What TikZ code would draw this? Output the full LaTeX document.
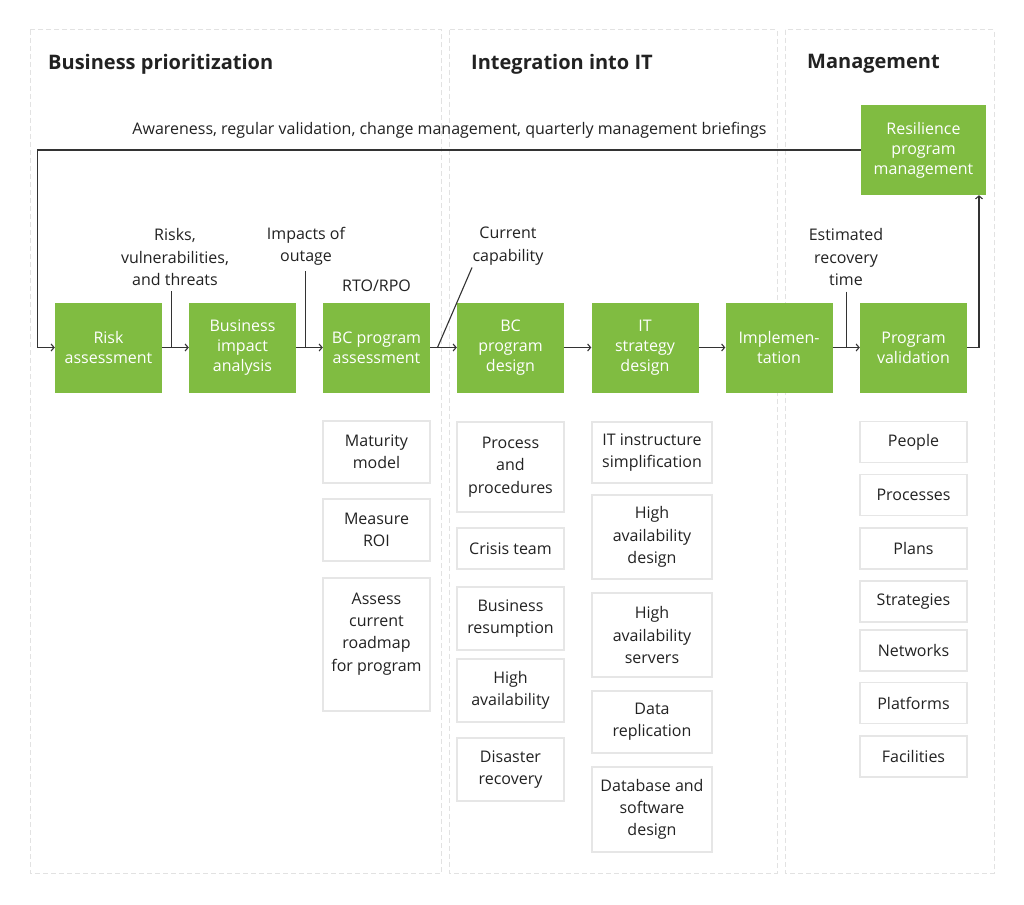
\documentclass[tikz,border=0pt]{standalone}
\usepackage{fontspec}
\setmainfont{Open Sans}
\usetikzlibrary{arrows.meta}
\definecolor{grn}{HTML}{80BC41}
\definecolor{txt}{HTML}{222222}
\definecolor{ln}{HTML}{333333}
\definecolor{bx}{HTML}{E6E6E6}
\definecolor{pnl}{HTML}{E2E2E2}
\begin{document}
\begin{tikzpicture}[x=1pt,y=-1pt,
  every node/.style={font=\fontsize{16}{22.3}\selectfont, align=center, inner sep=0pt, text=txt},
  gbox/.style={fill=grn, text=white, minimum width=107pt, minimum height=90pt, font=\fontsize{16}{20}\selectfont},
  wbox/.style={draw=bx, line width=1.2pt, fill=white, minimum width=107pt},
  wboxw/.style={wbox, minimum width=120pt},
  panel/.style={draw=pnl, line width=1pt, dash pattern=on 5pt off 3pt},
  title/.style={font=\fontsize{20}{24}\selectfont\bfseries, anchor=west},
  flow/.style={draw=ln, line width=1.1pt, -{Straight Barb[length=3pt,width=7pt]}},
  cline/.style={draw=ln, line width=1.1pt}]
\useasboundingbox[fill=white] (0,0) rectangle (1024,904);

% panels
\draw[panel] (30,30) rectangle (441.5,873);
\draw[panel] (449,30) rectangle (777,873);
\draw[panel] (785,30) rectangle (994,873);

% titles
\node[title] (t1) at (48,64) {Business prioritization};
\node[title] (t2) at (471,64) {Integration into IT};
\node[title] (t3) at (807,64) {Management};

% green process boxes
\node[gbox] (risk) at (108.5,347.5) {Risk\\assessment};
\node[gbox] (bia)  at (242.5,347.5) {Business\\impact\\analysis};
\node[gbox] (bca)  at (376.5,347.5) {BC program\\assessment};
\node[gbox] (bcd)  at (510.5,347.5) {BC\\program\\design};
\node[gbox] (its)  at (645,347.5) {IT\\strategy\\design};
\node[gbox] (impl) at (779,347.5) {Implemen-\\tation};
\node[gbox] (pv)   at (913.5,347.5) {Program\\validation};
\node[gbox, minimum width=125pt] (rpm) at (923.5,150) {Resilience\\program\\management};

% flow arrows
\draw[flow] (risk.east) -- (bia.west);
\draw[flow] (bia.east) -- (bca.west);
\draw[flow] (bca.east) -- (bcd.west);
\draw[flow] (bcd.east) -- (its.west);
\draw[flow] (its.east) -- (impl.west);
\draw[flow] (impl.east) -- (pv.west);

% feedback loop
\coordinate (fb) at (37.5,150);
\draw[flow] (rpm.west) -- (fb) |- (risk.west);
\node (aw) at (449.5,130.5) {Awareness, regular validation, change management, quarterly management briefings};
\coordinate (up) at (979,347.5);
\draw[flow] (pv.east) -- (up) -- (up |- rpm.south);

% annotations
\node (lrisk) at (175,257) {Risks,\\vulnerabilities,\\and threats};
\coordinate (a1) at (171.5,291);
\coordinate (a1b) at (171.5,347.5);
\draw[cline] (a1) -- (a1b);

\node (limp) at (306,246) {Impacts of\\outage};
\coordinate (a2) at (305.5,271);
\coordinate (a2b) at (305.5,347.5);
\draw[cline] (a2) -- (a2b);

\node (lrto) at (376.5,285.5) {RTO/RPO};

\node (lcur) at (508,246) {Current\\capability};
\coordinate (a3) at (472,267.5);
\coordinate (a3b) at (437.5,347.5);
\draw[cline] (a3) -- (a3b);

\node (lest) at (846,257) {Estimated\\recovery\\time};
\coordinate (a4) at (846.5,291.5);
\coordinate (a4b) at (846.5,347.5);
\draw[cline] (a4) -- (a4b);

% column: BC program assessment
\node[wbox, minimum height=62pt] (mm) at (376.5,452) {Maturity\\model};
\node[wbox, minimum height=62pt] (roi) at (376.5,530) {Measure\\ROI};
\node[wbox, minimum height=133pt] (asb) at (376.5,644.5) {};
\node (ast) at (376.5,634) {Assess\\current\\roadmap\\for program};

% column: BC program design
\node[wbox, minimum height=90pt] (pp) at (510.5,467) {Process\\and\\procedures};
\node[wbox, minimum height=41pt] (ct) at (510.5,548.5) {Crisis team};
\node[wbox, minimum height=63pt] (br) at (510.5,618.5) {Business\\resumption};
\node[wbox, minimum height=63pt] (ha) at (510.5,690.5) {High\\availability};
\node[wbox, minimum height=63pt] (dr) at (510.5,769.5) {Disaster\\recovery};

% column: IT strategy design
\node[wboxw, minimum height=61pt] (iti) at (652,452.5) {IT instructure\\simplification};
\node[wboxw, minimum height=84pt] (had) at (652,537) {High\\availability\\design};
\node[wboxw, minimum height=84pt] (has) at (652,635) {High\\availability\\servers};
\node[wboxw, minimum height=62pt] (drp) at (652,722) {Data\\replication};
\node[wboxw, minimum height=85pt] (dbs) at (652,809.5) {Database and\\software\\design};

% column: Program validation
\node[wbox, minimum height=41pt] (peo) at (913.5,442) {People};
\node[wbox, minimum height=41pt] (pro) at (913.5,495) {Processes};
\node[wbox, minimum height=41pt] (pla) at (913.5,548.5) {Plans};
\node[wbox, minimum height=41pt] (str) at (913.5,601.5) {Strategies};
\node[wbox, minimum height=41pt] (net) at (913.5,650.5) {Networks};
\node[wbox, minimum height=41pt] (plt) at (913.5,703) {Platforms};
\node[wbox, minimum height=41pt] (fac) at (913.5,756.5) {Facilities};
\end{tikzpicture}
\end{document}
